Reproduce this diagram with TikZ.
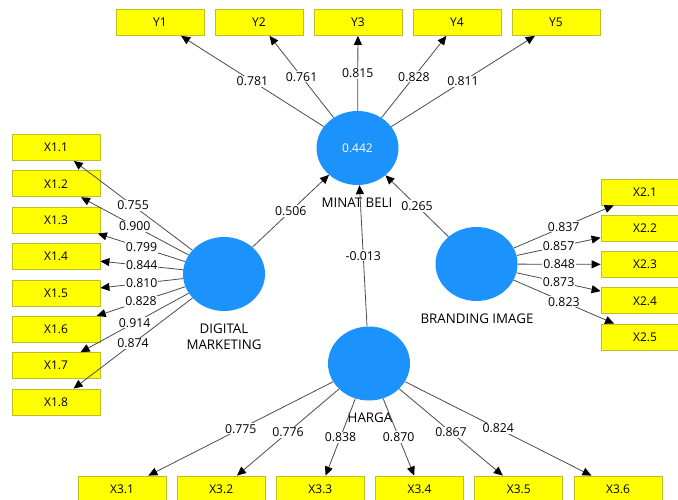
\documentclass[tikz,border=0pt]{standalone}
\usepackage{fontspec}
\setmainfont{Open Sans}
\usetikzlibrary{arrows.meta,shapes.geometric}
\definecolor{lvblue}{RGB}{28,146,252}
\definecolor{boxyellow}{RGB}{255,255,0}
\definecolor{boxborder}{RGB}{190,190,40}
\definecolor{linegray}{RGB}{75,75,75}
\begin{document}
\begin{tikzpicture}[x=1pt,y=-1pt,
  ind/.style={draw=boxborder, fill=boxyellow, line width=0.8pt, minimum width=88pt, minimum height=26pt, inner sep=0pt, font=\fontsize{12}{14}\selectfont},
  lv/.style={ellipse, fill=lvblue, minimum width=82pt, minimum height=74pt, inner sep=0pt, text=white, font=\fontsize{12}{14}\selectfont},
  arr/.style={draw=linegray, line width=0.8pt, -{Triangle[length=9pt,width=8pt,color=black]}},
  lbl/.style={fill=white, inner sep=1pt, text=black, font=\fontsize{12.3}{14}\selectfont},
  lvname/.style={align=center, font=\fontsize{13.3}{16}\selectfont}
]
\useasboundingbox (0,0) rectangle (678,500);

% latent variables
\node[lv] (mb) at (357.5,148) {0.442};
\node[lv] (dm) at (224,274) {};
\node[lv] (bi) at (476.5,264) {};
\node[lv] (hg) at (369,363.5) {};

\node[lvname] (mbname) at (357,203) {MINAT BELI};
\node[lvname] (dmname) at (224,337) {DIGITAL\\MARKETING};
\node[lvname] (biname) at (477,319) {BRANDING IMAGE};
\node[lvname] (hgname) at (370,418) {HARGA};

% Y indicators
\node[ind] (y1) at (160,22.5) {Y1};
\node[ind] (y2) at (259,22.5) {Y2};
\node[ind] (y3) at (358,22.5) {Y3};
\node[ind] (y4) at (457,22.5) {Y4};
\node[ind] (y5) at (556,22.5) {Y5};

% X1 indicators
\node[ind] (x11) at (56,147.5) {X1.1};
\node[ind] (x12) at (56,183.9) {X1.2};
\node[ind] (x13) at (56,220.2) {X1.3};
\node[ind] (x14) at (56,256.6) {X1.4};
\node[ind] (x15) at (56,292.9) {X1.5};
\node[ind] (x16) at (56,329.3) {X1.6};
\node[ind] (x17) at (56,365.6) {X1.7};
\node[ind] (x18) at (56,402) {X1.8};

% X2 indicators
\node[ind] (x21) at (645,192) {X2.1};
\node[ind] (x22) at (645,228.3) {X2.2};
\node[ind] (x23) at (645,264.5) {X2.3};
\node[ind] (x24) at (645,300.8) {X2.4};
\node[ind] (x25) at (645,337) {X2.5};

% X3 indicators
\node[ind] (x31) at (122,489) {X3.1};
\node[ind] (x32) at (221.2,489) {X3.2};
\node[ind] (x33) at (320.4,489) {X3.3};
\node[ind] (x34) at (419.6,489) {X3.4};
\node[ind] (x35) at (518.8,489) {X3.5};
\node[ind] (x36) at (618,489) {X3.6};

% loadings MINAT BELI
\draw[arr] (mb) -- node[lbl]{0.781} (y1);
\draw[arr] (mb) -- node[lbl]{0.761} (y2);
\draw[arr] (mb) -- node[lbl]{0.815} (y3);
\draw[arr] (mb) -- node[lbl]{0.828} (y4);
\draw[arr] (mb) -- node[lbl]{0.811} (y5);

% loadings DIGITAL MARKETING
\draw[arr] (dm) -- node[lbl]{0.755} (x11);
\draw[arr] (dm) -- node[lbl]{0.900} (x12);
\draw[arr] (dm) -- node[lbl]{0.799} (x13);
\draw[arr] (dm) -- node[lbl]{0.844} (x14);
\draw[arr] (dm) -- node[lbl]{0.810} (x15);
\draw[arr] (dm) -- node[lbl]{0.828} (x16);
\draw[arr] (dm) -- node[lbl]{0.914} (x17);
\draw[arr] (dm) -- node[lbl]{0.874} (x18);

% loadings BRANDING IMAGE
\draw[arr] (bi) -- node[lbl]{0.837} (x21);
\draw[arr] (bi) -- node[lbl]{0.857} (x22);
\draw[arr] (bi) -- node[lbl]{0.848} (x23);
\draw[arr] (bi) -- node[lbl]{0.873} (x24);
\draw[arr] (bi) -- node[lbl]{0.823} (x25);

% loadings HARGA
\draw[arr] (hg) -- node[lbl]{0.775} (x31);
\draw[arr] (hg) -- node[lbl]{0.776} (x32);
\draw[arr] (hg) -- node[lbl]{0.838} (x33);
\draw[arr] (hg) -- node[lbl]{0.870} (x34);
\draw[arr] (hg) -- node[lbl]{0.867} (x35);
\draw[arr] (hg) -- node[lbl]{0.824} (x36);

% structural paths
\draw[arr] (dm) -- node[lbl]{0.506} (mb);
\draw[arr] (bi) -- node[lbl]{0.265} (mb);
\draw[arr] (hg) -- node[lbl]{-0.013} (mb);
\end{tikzpicture}
\end{document}
